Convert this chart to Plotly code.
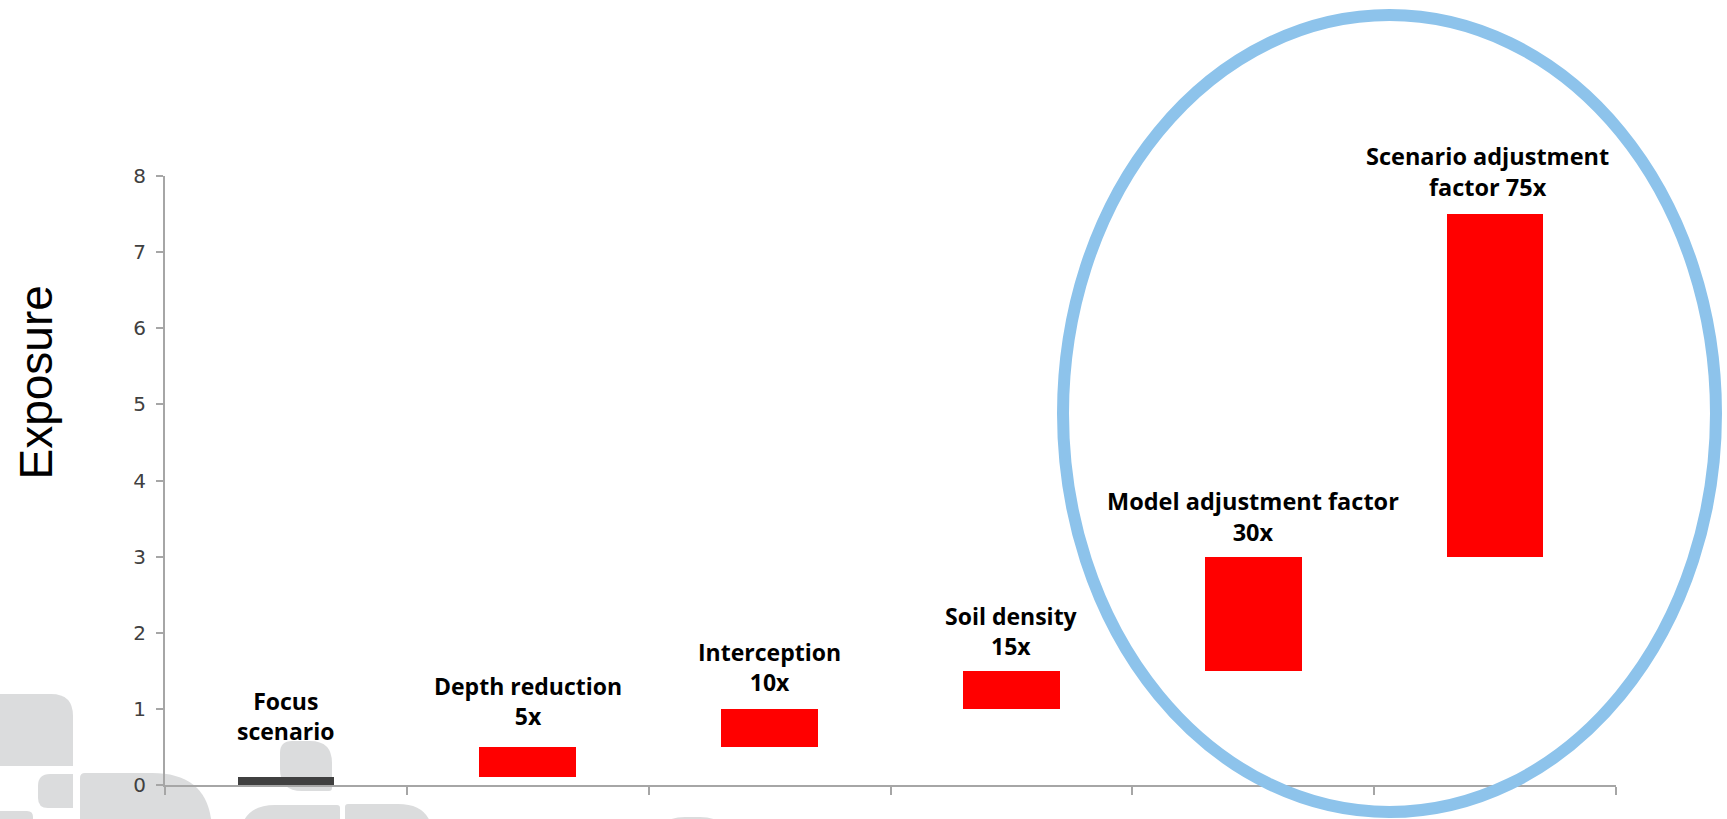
import plotly.graph_objects as go

# ---- data ----
categories = ["Focus scenario", "Depth reduction", "Interception", "Soil density",
              "Model adjustment factor", "Scenario adjustment factor"]
bar_base = [0.0, 0.1, 0.5, 1.0, 1.5, 3.0]
bar_top = [0.1, 0.5, 1.0, 1.5, 3.0, 7.5]
label_text = ["Focus<br>scenario", "Depth reduction<br>5x", "Interception<br>10x",
              "Soil density<br>15x", "Model adjustment factor<br>30x",
              "Scenario adjustment<br>factor 75x"]
y_ticks = [0, 1, 2, 3, 4, 5, 6, 7, 8]

# ---- style ----
bar_colors = ["#404040", "#FF0000", "#FF0000", "#FF0000", "#FF0000", "#FF0000"]
label_shift = [61, 46, 42, 40, 40, 43]
label_xshift = [0, 0, 0, 0, 0, -8]
label_size = [23, 23, 23, 23, 23.5, 23.5]
W, H = 1727, 819
ML, MR, MT, MB = 165, 111, 176, 34
PW, PH = W - ML - MR, H - MT - MB
AXIS = "#A6A6A6"
WM = "#DBDCDD"


def px(x):
    return (x - ML) / PW


def py(y):
    return (H - MB - y) / PH


def rrect(x0, y0, x1, y1, r_tl=0, r_tr=0, r_br=0, r_bl=0):
    """rounded rect in pixel coords -> path in paper coords"""
    pts = []
    pts.append(f"M {px(x0 + r_tl)},{py(y0)}")
    pts.append(f"L {px(x1 - r_tr)},{py(y0)}")
    pts.append(f"Q {px(x1)},{py(y0)} {px(x1)},{py(y0 + r_tr)}")
    pts.append(f"L {px(x1)},{py(y1 - r_br)}")
    pts.append(f"Q {px(x1)},{py(y1)} {px(x1 - r_br)},{py(y1)}")
    pts.append(f"L {px(x0 + r_bl)},{py(y1)}")
    pts.append(f"Q {px(x0)},{py(y1)} {px(x0)},{py(y1 - r_bl)}")
    pts.append(f"L {px(x0)},{py(y0 + r_tl)}")
    pts.append(f"Q {px(x0)},{py(y0)} {px(x0 + r_tl)},{py(y0)}")
    pts.append("Z")
    return " ".join(pts)


heights = [t - b for t, b in zip(bar_top, bar_base)]
xpos = list(range(len(categories)))

fig = go.Figure()
fig.add_trace(go.Bar(
    x=xpos, y=heights, base=bar_base, width=0.4,
    marker=dict(color=bar_colors, line=dict(width=0)),
    hovertext=categories, showlegend=False,
))

shapes = []
# watermark-like grey shapes (background)
wm_boxes = [
    (-30, 694, 73, 766, 0, 22, 0, 30),
    (38, 774, 73, 808, 12, 0, 0, 10),
    (80, 773, 212, 840, 5, 60, 0, 0),
    (-20, 811, 33, 840, 0, 6, 0, 0),
    (280, 741, 332, 791, 12, 22, 3, 22),
    (240, 805, 340, 840, 35, 3, 0, 0),
    (345, 804, 433, 840, 3, 35, 0, 0),
    (655, 817, 730, 840, 30, 30, 0, 0),
]
for b in wm_boxes:
    shapes.append(dict(type="path", xref="paper", yref="paper", path=rrect(*b),
                       fillcolor=WM, line=dict(width=0), layer="below"))

# blue ellipse
shapes.append(dict(type="circle", xref="paper", yref="paper",
                   x0=px(1063), x1=px(1716), y0=py(812), y1=py(15),
                   line=dict(color="#8DC3EB", width=12), layer="above"))

annotations = []
for i, (t, s) in enumerate(zip(label_text, label_shift)):
    annotations.append(dict(
        x=xpos[i], y=bar_top[i], xref="x", yref="y", text=f"<b>{t}</b>",
        showarrow=False, yanchor="middle", xanchor="center", yshift=s,
        xshift=label_xshift[i],
        font=dict(family="Open Sans", size=label_size[i], color="#000000"),
    ))
annotations.append(dict(
    x=px(35.5), y=py(383), xref="paper", yref="paper", text="Exposure",
    textangle=-90, showarrow=False, xanchor="center", yanchor="middle",
    font=dict(family="Liberation Sans, Arial", size=46, color="#000000"),
))

fig.update_layout(
    width=W, height=H, autosize=False,
    margin=dict(l=ML, r=MR, t=MT, b=MB, pad=0),
    paper_bgcolor="white", plot_bgcolor="rgba(0,0,0,0)",
    shapes=shapes, annotations=annotations,
    xaxis=dict(range=[-0.5, len(categories) - 0.5],
               tickvals=[i - 0.5 for i in range(len(categories) + 1)],
               showticklabels=False, ticks="outside", ticklen=8, tickwidth=2,
               tickcolor=AXIS, showline=True, linecolor=AXIS, linewidth=2,
               showgrid=False, zeroline=False, fixedrange=True),
    yaxis=dict(range=[0, 8], tickvals=y_ticks, ticks="outside", ticklen=7, tickwidth=2,
               tickcolor=AXIS, showline=True, linecolor=AXIS, linewidth=2,
               showgrid=False, zeroline=False, ticklabelstandoff=6,
               tickfont=dict(family="DejaVu Sans", size=20, color="#404040")),
    bargap=0,
)

fig.write_html("out.html")
